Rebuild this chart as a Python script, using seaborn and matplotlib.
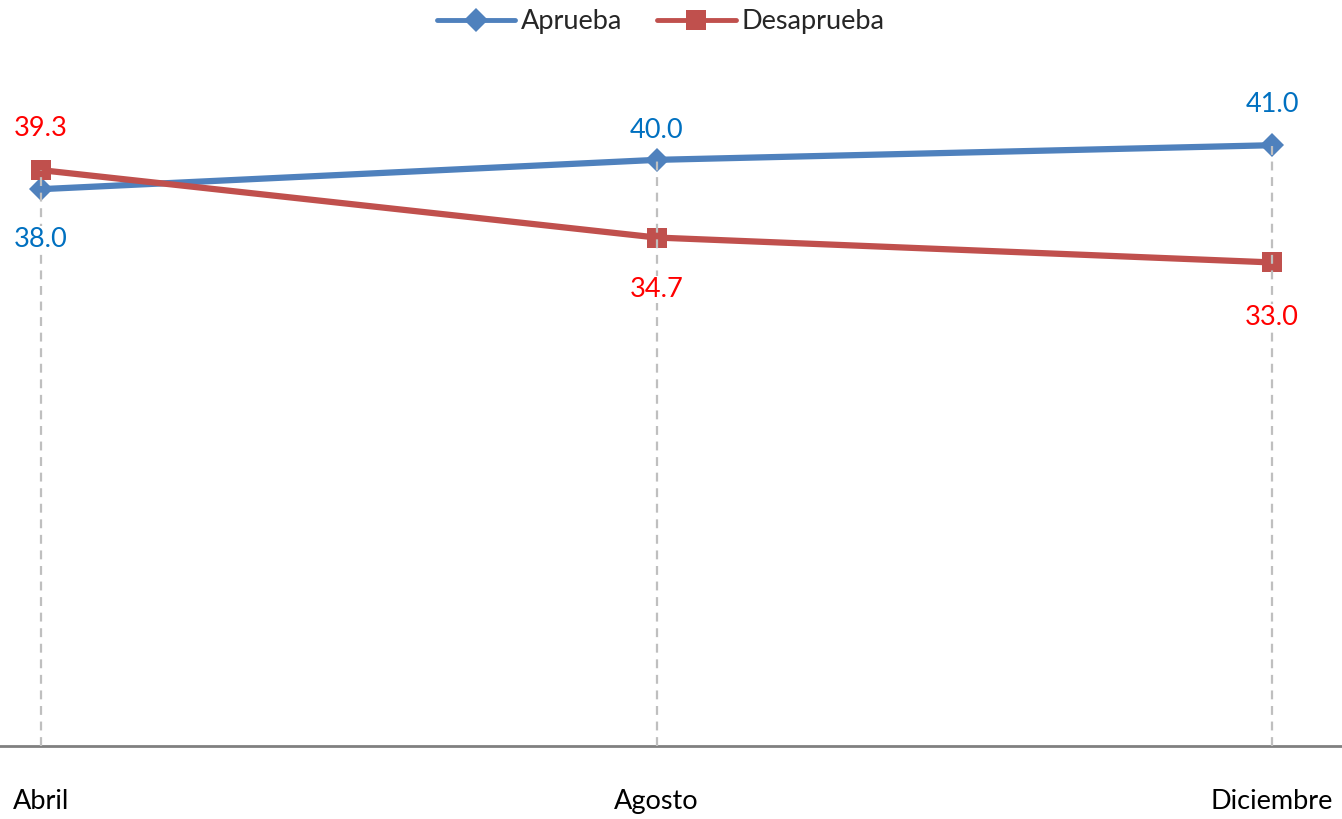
import matplotlib
matplotlib.use("Agg")
import matplotlib.pyplot as plt
import seaborn as sns
import pandas as pd
from matplotlib.lines import Line2D

months = ["Abril", "Agosto", "Diciembre"]
aprueba = [38.0, 40.0, 41.0]
desaprueba = [39.3, 34.7, 33.0]
series_names = ["Aprueba", "Desaprueba"]

# label offsets in pixels (style, not data)
ap_offsets = [-50, 29, 41]
de_offsets = [42, -52, -55]

sns.set_theme(style="white")
plt.rcParams["font.family"] = ["Lato", "DejaVu Sans"]

df = pd.DataFrame({
    "mes": months * 2,
    "x": list(range(len(months))) * 2,
    "valor": aprueba + desaprueba,
    "serie": [series_names[0]] * len(months) + [series_names[1]] * len(months),
})

fig = plt.figure(figsize=(13.42, 8.19), dpi=100)
ax = fig.add_axes([0.0, 1 - 746 / 819, 1.0, (746 - 86.6) / 819])

blue = "#4F81BD"
red = "#C0504D"
FS = 19.5

# drop lines
for i in range(len(months)):
    top = max(aprueba[i], desaprueba[i])
    ax.vlines(i, 0, top, colors="#BFBFBF", linestyles=(0, (4, 3)), linewidth=1.6, zorder=5)

sns.lineplot(data=df, x="x", y="valor", hue="serie", style="serie",
             palette={series_names[0]: blue, series_names[1]: red},
             markers={series_names[0]: "D", series_names[1]: "s"},
             dashes=False, linewidth=4.5, markersize=15, markeredgewidth=0,
             ax=ax, legend=False, zorder=3)
for line in ax.lines:
    if line.get_marker() == "D":
        line.set_markersize(12)

bbox = dict(facecolor="white", edgecolor="none", pad=0.5)
for i in range(len(months)):
    ax.annotate(f"{aprueba[i]:.1f}", (i, aprueba[i]), xytext=(0, ap_offsets[i]),
                textcoords="offset pixels", ha="center", va="center",
                color="#0070C0", fontsize=FS, bbox=bbox, zorder=10)
    ax.annotate(f"{desaprueba[i]:.1f}", (i, desaprueba[i]), xytext=(0, de_offsets[i]),
                textcoords="offset pixels", ha="center", va="center",
                color="#FF0000", fontsize=FS, bbox=bbox, zorder=10)

ax.set_xlim(-41 / 615.5, 2 + 70 / 615.5)
ax.set_ylim(0, 45)
ax.set_xticks(range(len(months)))
ax.set_xticklabels(months, fontsize=FS, color="black")
ax.tick_params(axis="x", length=0, pad=31)
ax.set_yticks([])
ax.set_xlabel("")
ax.set_ylabel("")
for s in ["top", "left", "right"]:
    ax.spines[s].set_visible(False)
ax.spines["bottom"].set_color("#808080")
ax.spines["bottom"].set_linewidth(2)

handles = [
    Line2D([], [], color=blue, lw=3.5, marker="D", markersize=12, markeredgewidth=0),
    Line2D([], [], color=red, lw=3.5, marker="s", markersize=15, markeredgewidth=0),
]
fig.legend(handles, series_names, loc="center", bbox_to_anchor=(0.492, 1 - 22 / 819),
           ncol=2, frameon=False, fontsize=FS, handlelength=2.9, columnspacing=1.3,
           handletextpad=0.2)

fig.savefig("out.png", dpi=100)
